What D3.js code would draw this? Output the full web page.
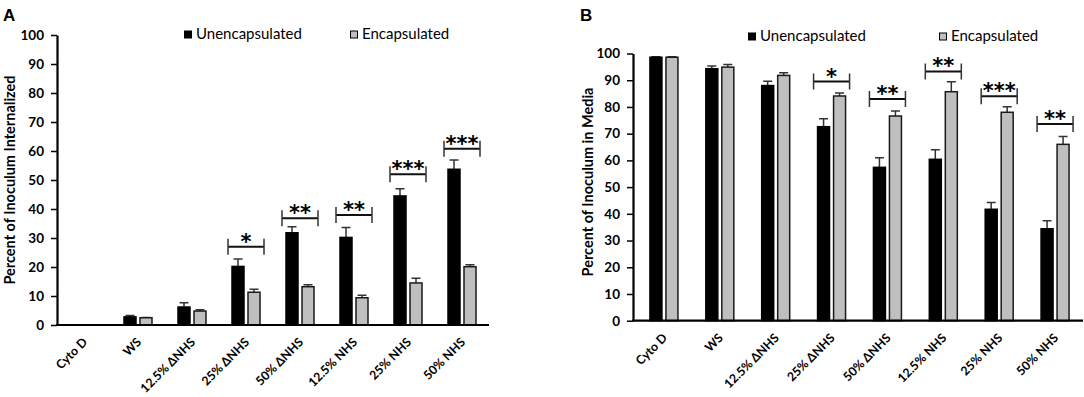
<!DOCTYPE html>
<html>
<head>
<meta charset="utf-8">
<script src="https://cdn.jsdelivr.net/npm/d3@7"></script>
<style>
  body { margin: 0; background: #fff; }
  svg { display: block; font-family: Lato, "Open Sans", sans-serif; }
</style>
</head>
<body>
<script>
// categories shared by both panels
var categories = ["Cyto D", "WS", "12.5% ΔNHS", "25% ΔNHS", "50% ΔNHS", "12.5% NHS", "25% NHS", "50% NHS"];
var series_names = ["Unencapsulated", "Encapsulated"];
var y_ticks = [0, 10, 20, 30, 40, 50, 60, 70, 80, 90, 100];

// panel A: percent of inoculum internalized
var internalized_unenc     = [0, 2.8, 6.2, 20.2, 31.8, 30.2, 44.5, 53.7];
var internalized_unenc_err = [0, 0.5, 1.5, 2.6, 2.1, 3.4, 2.5, 3.2];
var internalized_enc       = [0, 2.5, 4.8, 11.3, 13.2, 9.4, 14.5, 20.1];
var internalized_enc_err   = [0, 0.1, 0.5, 1.0, 0.7, 0.9, 1.6, 0.7];
var internalized_sig       = ["", "", "", "*", "**", "**", "***", "***"];
var internalized_bracket   = [null, null, null, 27, 36.8, 37.9, 52, 60.8];

// panel B: percent of inoculum in media
var media_unenc     = [98.6, 94.3, 88.0, 72.6, 57.4, 60.4, 41.7, 34.4];
var media_unenc_err = [0.2, 1.0, 1.6, 3.0, 3.6, 3.6, 2.5, 3.0];
var media_enc       = [98.6, 94.9, 91.8, 84.1, 76.6, 85.7, 78.0, 66.0];
var media_enc_err   = [0.2, 1.0, 1.0, 1.1, 1.9, 3.7, 2.1, 2.9];
var media_sig       = ["", "", "", "*", "**", "**", "***", "**"];
var media_bracket   = [null, null, null, 89.5, 83, 93.3, 84, 73.6];

var svg = d3.select("body").append("svg")
    .attr("width", 1084)
    .attr("height", 397);

function bar_panel(cfg) {
  var g = svg.append("g");

  var x = d3.scaleBand()
            .domain(categories)
            .range([cfg.left + cfg.bandOffset, cfg.right]);
  var y = d3.scaleLinear()
            .domain([0, 100])
            .range([cfg.bottom, cfg.top]);

  // bars, black first then grey
  var rows = [];
  categories.forEach(function(c, i) {
    rows.push({ c: c, s: 0, v: cfg.unenc[i], e: cfg.unencErr[i] });
    rows.push({ c: c, s: 1, v: cfg.enc[i], e: cfg.encErr[i] });
  });
  rows = rows.filter(function(d) { return d.v > 0; });

  var bw = 12;
  function barX(d) {
    var c = x(d.c) + x.bandwidth() / 2;
    return d.s === 0 ? c - 14 : c + 2;
  }

  // error bars (upper only)
  g.selectAll(".err")
      .data(rows.filter(function(d) { return d.e > 0; }))
    .enter().append("path")
      .attr("class", "err")
      .attr("fill", "none")
      .attr("stroke", "#333")
      .attr("stroke-width", 1.5)
      .attr("d", function(d) {
        var cx = barX(d) + bw / 2;
        var t = y(d.v + d.e);
        return "M" + cx + "," + y(d.v) + "V" + t + "M" + (cx - 4.5) + "," + t + "H" + (cx + 4.5);
      });

  g.selectAll(".bar")
      .data(rows)
    .enter().append("rect")
      .attr("class", "bar")
      .attr("x", barX)
      .attr("width", bw)
      .attr("y", function(d) { return y(d.v); })
      .attr("height", function(d) { return cfg.bottom - y(d.v); })
      .attr("fill", function(d) { return d.s === 0 ? "#000" : "#bfbfbf"; })
      .attr("stroke", function(d) { return d.s === 0 ? "#000" : "#1a1a1a"; })
      .attr("stroke-width", 1.5);

  // significance brackets
  var sig = categories.map(function(c, i) {
    return { c: c, level: cfg.bracket[i], label: cfg.sig[i] };
  }).filter(function(d) { return d.level !== null; });

  var br = g.selectAll(".sig")
      .data(sig)
    .enter().append("g")
      .attr("class", "sig")
      .attr("transform", function(d) {
        return "translate(" + (x(d.c) + x.bandwidth() / 2) + "," + y(d.level) + ")";
      });
  br.append("path")
      .attr("fill", "none")
      .attr("stroke", "#111")
      .attr("stroke-width", 2)
      .attr("d", "M-18,0H18");
  br.append("path")
      .attr("fill", "none")
      .attr("stroke", "#333")
      .attr("stroke-width", 1.5)
      .attr("d", "M-18,-8V8M18,-8V8");
  br.append("text")
      .attr("text-anchor", "middle")
      .attr("y", 2)
      .style("font-family", "'DejaVu Sans'")
      .style("font-size", "21px")
      .style("font-weight", "bold")
      .text(function(d) { return d.label; });

  // y axis
  var ya = g.append("g")
      .attr("transform", "translate(" + cfg.left + ",0)")
      .call(d3.axisLeft(y).tickValues(y_ticks).tickSize(6).tickSizeOuter(0).tickPadding(7));
  ya.select(".domain").attr("stroke-width", 2.2);
  ya.selectAll(".tick line").attr("stroke-width", 1.5);
  ya.selectAll(".tick text")
      .style("font-family", "Lato")
      .style("font-size", "13.5px")
      .style("font-weight", "bold")
      .attr("fill", "#000");

  // x axis
  var xa = g.append("g")
      .attr("transform", "translate(0," + cfg.bottom + ")")
      .call(d3.axisBottom(x).tickSize(0).tickSizeOuter(0));
  xa.select(".domain").remove();
  xa.append("line")
      .attr("x1", cfg.left - 1)
      .attr("x2", cfg.right)
      .attr("stroke", "#000")
      .attr("stroke-width", 2.2);
  xa.selectAll(".tick text")
      .attr("y", 0)
      .attr("dy", 0)
      .attr("text-anchor", "end")
      .attr("transform", "translate(4,18) rotate(-45)")
      .style("font-family", "Lato")
      .style("font-size", "12.3px")
      .style("font-weight", "bold")
      .attr("fill", "#000");

  // y title
  g.append("text")
      .attr("transform", "translate(" + cfg.titleX + "," + cfg.titleY + ") rotate(-90)")
      .attr("text-anchor", "middle")
      .attr("dy", "0.35em")
      .style("font-size", "14.5px")
      .style("font-weight", "bold")
      .text(cfg.title);

  // panel letter
  g.append("text")
      .attr("x", cfg.letterX)
      .attr("y", 21)
      .style("font-family", "'Liberation Sans'")
      .style("font-size", "17px")
      .style("font-weight", "bold")
      .text(cfg.letter);

  // legend
  var lg = g.selectAll(".legend")
      .data(series_names)
    .enter().append("g")
      .attr("class", "legend")
      .attr("transform", function(d, i) {
        return "translate(" + cfg.legendX[i] + "," + cfg.legendY + ")";
      });
  lg.append("rect")
      .attr("x", 0.5)
      .attr("y", -8)
      .attr("width", 7)
      .attr("height", 7)
      .attr("fill", function(d, i) { return i === 0 ? "#000" : "#bfbfbf"; })
      .attr("stroke", "#000")
      .attr("stroke-width", 1);
  lg.append("text")
      .attr("x", 12)
      .style("font-size", "15px")
      .text(function(d) { return d; });
}

bar_panel({
  letter: "A", letterX: 3,
  left: 57, bandOffset: 0, right: 489, top: 35, bottom: 325,
  unenc: internalized_unenc, unencErr: internalized_unenc_err,
  enc: internalized_enc, encErr: internalized_enc_err,
  sig: internalized_sig, bracket: internalized_bracket,
  title: "Percent of Inoculum Internalized", titleX: 10, titleY: 180,
  legendX: [184, 350], legendY: 39
});

bar_panel({
  letter: "B", letterX: 580,
  left: 633, bandOffset: 3, right: 1083, top: 53.5, bottom: 320.7,
  unenc: media_unenc, unencErr: media_unenc_err,
  enc: media_enc, encErr: media_enc_err,
  sig: media_sig, bracket: media_bracket,
  title: "Percent of Inoculum in Media", titleX: 588, titleY: 182,
  legendX: [748, 939], legendY: 41
});
</script>
</body>
</html>
